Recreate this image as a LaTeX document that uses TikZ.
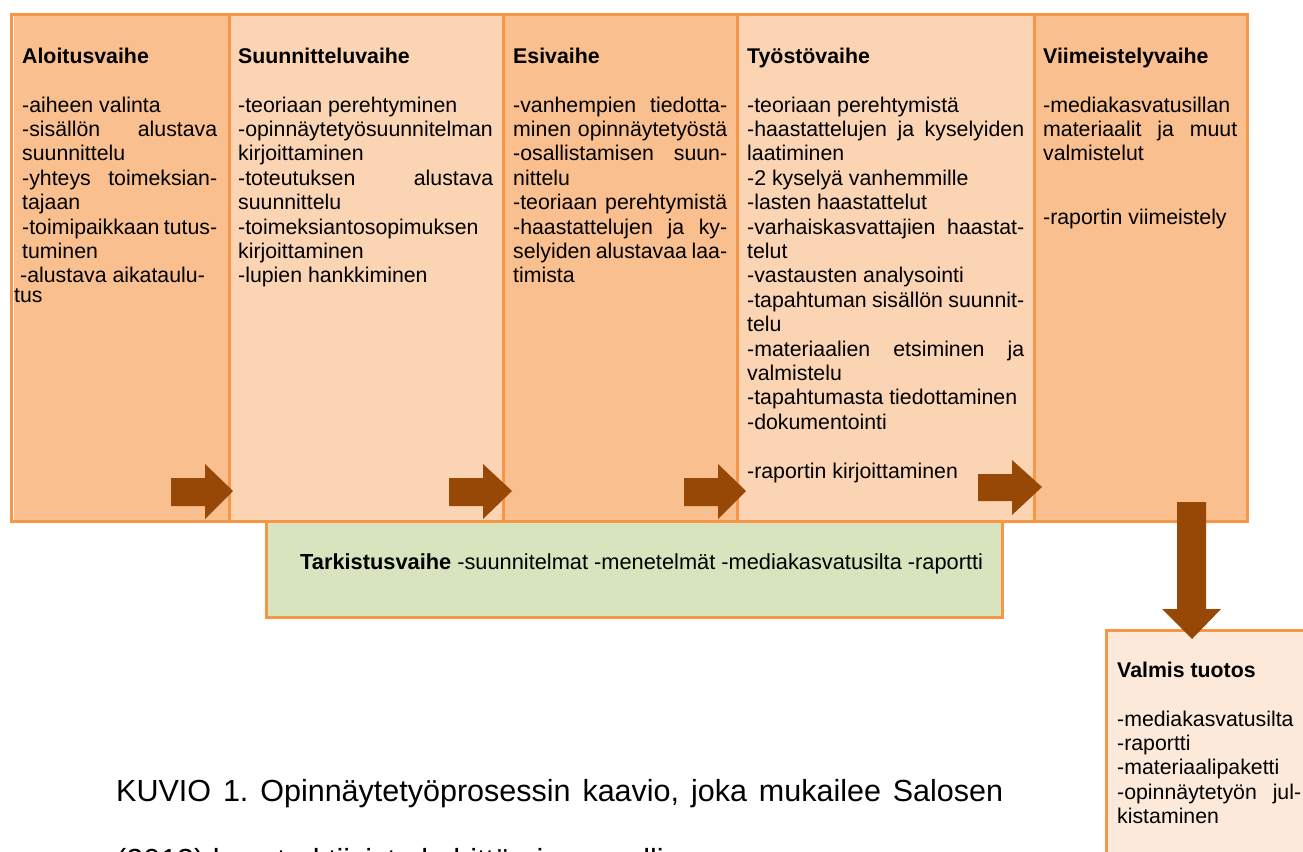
\documentclass[tikz,border=0pt]{standalone}
\usepackage{fontspec}
\setmainfont{Liberation Sans}
\frenchspacing
\definecolor{peachA}{HTML}{F9BF8F}
\definecolor{peachB}{HTML}{FBD4B4}
\definecolor{peachC}{HTML}{FDE9D9}
\definecolor{bord}{HTML}{F79646}
\definecolor{arr}{HTML}{974806}
\definecolor{greenbox}{HTML}{D7E4BD}
\newcommand\J[1]{\makebox[\hsize][s]{#1}}
\newcommand\FS{\fontsize{21.3}{24.4}\selectfont}
\tikzset{
  colbox/.style={draw=bord, line width=3pt, fill=#1},
  coltext/.style={anchor=north west, inner sep=0pt, text width=#1, align=justify, font=\FS},
  blockarrow/.style={fill=arr, draw=none},
}
\begin{document}
\begin{tikzpicture}[x=1pt,y=-1pt]
\useasboundingbox (0,0) rectangle (1303,851);
\fill[white] (0,0) rectangle (1303,851);
% columns
\draw[colbox=peachA] (11.5,14.5) rectangle (229,521);
\draw[colbox=peachB] (229,14.5) rectangle (503,521);
\draw[colbox=peachA] (503,14.5) rectangle (737,521);
\draw[colbox=peachB] (737,14.5) rectangle (1034.5,521);
\draw[colbox=peachA] (1034.5,14.5) rectangle (1247,521);
\draw[white, line width=0.8pt] (13.6,16) -- (13.6,519.5);
% column texts
\node[coltext=195pt] (c1) at (22,45) {\rule{0pt}{18pt}\textbf{Aloitusvaihe}\\[24.4pt]
-aiheen valinta\\
\J{-sisällön alustava}\\
suunnittelu\\
\J{-yhteys toimeksian-}\\
tajaan\\
\J{-toimipaikkaan tutus-}\\
tuminen\\
\hspace*{-2pt}-alustava aikataulu-};
\node[anchor=north west, inner sep=0pt, font=\FS] (c1b) at (14,284.2) {\rule{0pt}{18pt}tus};
\node[coltext=255pt] (c2) at (238,45) {\rule{0pt}{18pt}\textbf{Suunnitteluvaihe}\\[24.4pt]
-teoriaan perehtyminen\\
\J{-opinnäytetyösuunnitelman}\\
kirjoittaminen\\
\J{-toteutuksen alustava}\\
suunnittelu\\
-toimeksiantosopimuksen\\
kirjoittaminen\\
-lupien hankkiminen};
\node[coltext=214pt] (c3) at (513,45) {\rule{0pt}{18pt}\textbf{Esivaihe}\\[24.4pt]
\J{-vanhempien tiedotta-}\\
\J{minen opinnäytetyöstä}\\
\J{-osallistamisen suun-}\\
nittelu\\
\J{-teoriaan perehtymistä}\\
\J{-haastattelujen ja ky-}\\
\J{selyiden alustavaa laa-}\\
timista};
\node[coltext=277pt] (c4) at (747,45) {\rule{0pt}{18pt}\textbf{Työstövaihe}\\[24.4pt]
-teoriaan perehtymistä\\
\J{-haastattelujen ja kyselyiden}\\
laatiminen\\
-2 kyselyä vanhemmille\\
-lasten haastattelut\\
\J{-varhaiskasvattajien haastat-}\\
telut\\
-vastausten analysointi\\
\J{-tapahtuman sisällön suunnit-}\\
telu\\
\J{-materiaalien etsiminen ja}\\
valmistelu\\
-tapahtumasta tiedottaminen\\
-dokumentointi\\[24.4pt]
-raportin kirjoittaminen};
\node[coltext=194pt] (c5) at (1043,45) {\rule{0pt}{18pt}\textbf{Viimeistelyvaihe}\\[24.4pt]
-mediakasvatusillan\\
\J{materiaalit ja muut}\\
valmistelut\\[39.6pt]
-raportin viimeistely};
% check box
\draw[colbox=greenbox] (266,521) rectangle (1002,617);
\node[anchor=base west, inner sep=0pt, font=\fontsize{21.8}{24}\selectfont] (chk) at (300,569)
  {\textbf{Tarkistusvaihe} -suunnitelmat -menetelmät -mediakasvatusilta -raportti};
% final box
\draw[colbox=peachC] (1106.5,630) rectangle (1320,880);
\node[coltext=184pt] (fin) at (1117,659) {\rule{0pt}{18pt}\textbf{Valmis tuotos}\\[24.4pt]
-mediakasvatusilta\\
-raportti\\
-materiaalipaketti\\
\J{-opinnäytetyön jul-}\\
kistaminen};
% block arrows
\foreach \xa/\xb/\xc in {171/205/233, 449/483/512, 684/718/746}{
  \fill[blockarrow] (\xa,478) -- (\xb,478) -- (\xb,464) -- (\xc,491) -- (\xb,519) -- (\xb,506) -- (\xa,506) -- cycle;
}
\fill[blockarrow] (978,474) -- (1012,474) -- (1012,460) -- (1042,487) -- (1012,515) -- (1012,501) -- (978,501) -- cycle;
\fill[blockarrow] (1177,502) -- (1206,502) -- (1206,609) -- (1221,609) -- (1192,639) -- (1162,609) -- (1177,609) -- cycle;
% caption
\node[anchor=base west, inner sep=0pt, font=\fontsize{30.5}{46}\selectfont] (cap1) at (116,801)
  {\makebox[887pt][s]{KUVIO 1. Opinnäytetyöprosessin kaavio, joka mukailee Salosen}};
\node[anchor=base west, inner sep=0pt, font=\fontsize{30.5}{46}\selectfont] (cap2) at (116,870)
  {(2013) konstruktiivista kehittämisen mallia.};
\end{tikzpicture}
\end{document}
